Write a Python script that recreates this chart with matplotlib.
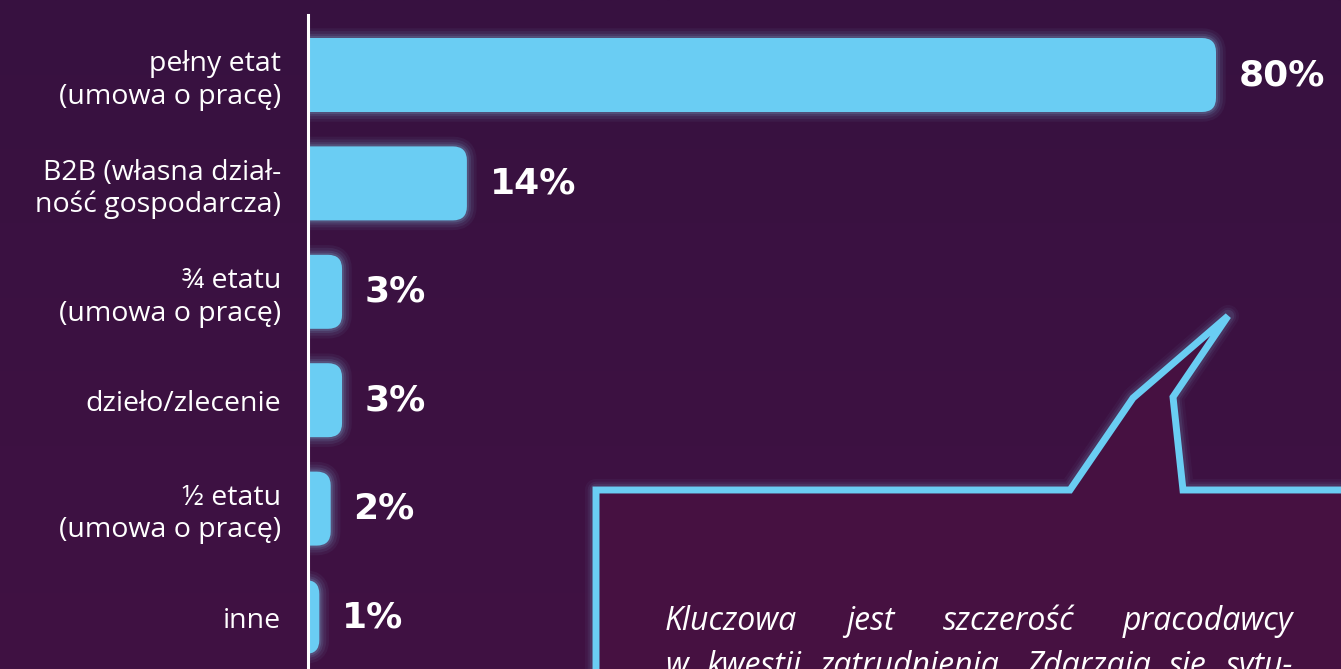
import numpy as np
import matplotlib.pyplot as plt
from matplotlib.patches import FancyBboxPatch, Polygon

# dane
categories = ['pełny etat\n(umowa o pracę)', 'B2B (własna dział-\nność gospodarcza)',
              '¾ etatu\n(umowa o pracę)', 'dzieło/zlecenie',
              '½ etatu\n(umowa o pracę)', 'inne']
values = [80, 14, 3, 3, 2, 1]
line1 = ['Kluczowa', 'jest', 'szczerość', 'pracodawcy']
line2 = ['w', 'kwestii', 'zatrudnienia.', 'Zdarzają', 'się', 'sytu-']

W, H = 1341, 669
bar_color = '#6acdf3'
glow_color = '#8fd8f7'

fig = plt.figure(figsize=(W / 100, H / 100), dpi=100)

# tlo + dymek (w pikselach)
bg = fig.add_axes([0, 0, 1, 1], zorder=0)
bg.set_xlim(0, W)
bg.set_ylim(H, 0)
bg.axis('off')
top = np.array([0x37, 0x11, 0x40]) / 255
bot = np.array([0x40, 0x12, 0x43]) / 255
grad = np.linspace(0, 1, 256)[:, None, None] * (bot - top) + top
bg.imshow(np.repeat(grad, 2, axis=1), extent=[0, W, H, 0], aspect='auto')

# wykres
ax = fig.add_axes([308 / W, 0, (W - 308) / W, (H - 15) / H], zorder=1)
ax.patch.set_alpha(0)
px_x = 11.35          # pikseli na 1%
px_y = 108.4          # pikseli na kategorie
ax.set_xlim(0, (W - 308) / px_x)
ax.set_ylim((H - 75) / px_y, (15 - 75) / px_y)
for s in ['top', 'right', 'bottom']:
    ax.spines[s].set_visible(False)
ax.spines['left'].set_color('white')
ax.spines['left'].set_linewidth(2.2)
ax.spines['left'].set_zorder(5)
ax.set_xticks([])
ax.set_yticks(range(len(categories)), categories)
ax.tick_params(axis='y', length=0, pad=19.5, labelcolor='white')
for lab in ax.get_yticklabels():
    lab.set_fontfamily('Open Sans')
    lab.set_fontsize(20.5)
    lab.set_linespacing(1.2)

asp = (1 / px_y) / (1 / px_x)
rs = 14 / px_x
bh = 74 / px_y
for i, v in enumerate(values):
    x0 = -3
    for lw, a in [(14, 0.05), (10, 0.07), (6, 0.1), (3, 0.15)]:
        g = FancyBboxPatch((x0, i - bh / 2), v - x0, bh,
                           boxstyle=f'round,pad=0,rounding_size={rs}',
                           mutation_aspect=asp, facecolor='none',
                           edgecolor=glow_color, linewidth=lw, alpha=a, zorder=2)
        ax.add_patch(g)
    p = FancyBboxPatch((x0, i - bh / 2), v - x0, bh,
                       boxstyle=f'round,pad=0,rounding_size={rs}',
                       mutation_aspect=asp, facecolor=bar_color,
                       edgecolor='none', zorder=3)
    ax.add_patch(p)
    ax.text(v + 2.0, i, f'{v}%', va='center', ha='left', color='white',
            fontsize=26, fontweight='bold', family='DejaVu Sans', clip_on=False)

# dymek
ov = fig.add_axes([0, 0, 1, 1], zorder=2)
ov.set_xlim(0, W)
ov.set_ylim(H, 0)
ov.axis('off')
ov.patch.set_alpha(0)
pts = [(596, 700), (596, 490), (1070, 490), (1133, 398), (1228, 316),
       (1173, 397), (1183, 490), (1360, 490), (1360, 700)]
for lw, a in [(16, 0.04), (12, 0.06), (9, 0.09)]:
    ov.add_patch(Polygon(pts, closed=True, facecolor='none', edgecolor=glow_color,
                         linewidth=lw, alpha=a, joinstyle='round'))
ov.add_patch(Polygon(pts, closed=True, facecolor='#461141', edgecolor=bar_color,
                     linewidth=5, joinstyle='miter'))


def justify(words, x0, x1, y):
    texts = [ov.text(0, y, w, color='white', fontsize=23, style='italic',
                     family='Open Sans', va='baseline')
             for w in words]
    fig.canvas.draw()
    r = fig.canvas.get_renderer()
    widths = [t.get_window_extent(r).width for t in texts]
    gap = (x1 - x0 - sum(widths)) / (len(words) - 1)
    x = x0
    for t, w in zip(texts, widths):
        t.set_x(x)
        x += w + gap


justify(line1, 665, 1293, 630)
justify(line2, 665, 1293, 675)

fig.savefig('out.png', dpi=100)
